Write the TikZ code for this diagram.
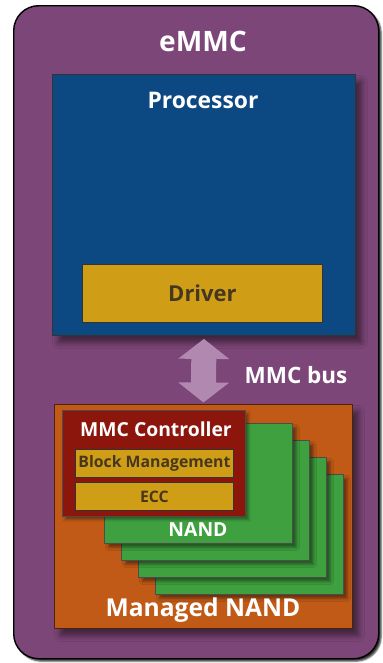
\documentclass[tikz,border=0pt]{standalone}
\usepackage{fontspec}
\setmainfont{Open Sans}
\usetikzlibrary{arrows.meta,shadows.blur}

\definecolor{emmcpurple}{RGB}{125,70,120}
\definecolor{procblue}{RGB}{12,72,130}
\definecolor{drvgold}{RGB}{208,158,22}
\definecolor{mnorange}{RGB}{192,90,22}
\definecolor{ctrlred}{RGB}{140,22,12}
\definecolor{nandgreen}{RGB}{62,160,62}
\definecolor{buspurple}{RGB}{176,136,176}
\definecolor{darktext}{RGB}{70,55,30}

\begin{document}
\begin{tikzpicture}[x=0.2mm, y=-0.2mm, line join=round,
	box/.style={fill=#1, draw=#1!40!black, line width=0.5pt, anchor=north west, inner sep=0pt},
	shade box/.style={blur shadow={shadow xshift=1.2mm, shadow yshift=-1.4mm, shadow blur radius=1.2mm, shadow opacity=50}},
	fs/.style={font=\bfseries\fontsize{#1}{#1}\selectfont},
	title/.style={text=white, inner sep=0pt},
	dark/.style={text=darktext}]
	\useasboundingbox (0,0) rectangle (383,663);
	% package
	\node[box=emmcpurple, draw=black, line width=0.8pt, rounded corners=5mm,
		minimum width=73mm, minimum height=130.6mm,
		blur shadow={shadow xshift=0.5mm, shadow yshift=-0.5mm, shadow blur radius=0.3mm, shadow opacity=80}] (emmc) at (13,5) {};
	\node[title, fs=16] (emmctitle) at (203,41) {eMMC};
	% host side
	\node[box=procblue, draw=black!80, minimum width=60.6mm, minimum height=52.2mm, shade box] (proc) at (52,74) {};
	\node[title, fs=13] (proctitle) at (203,100) {Processor};
	\node[box=drvgold, draw=black!80, dark, fs=12.5, minimum width=48mm, minimum height=11.6mm] (drv) at (82,264) {Driver};
	% managed NAND
	\node[box=mnorange, minimum width=59.6mm, minimum height=44.8mm, shade box] (mnand) at (54,404) {};
	\foreach \i in {3,2,1,0}
		\node[box=nandgreen, draw=black!70, minimum width=37.6mm, minimum height=24mm,
			blur shadow={shadow xshift=0.8mm, shadow yshift=-0.8mm, shadow blur radius=0.6mm, shadow opacity=45}] (nand\i) at (104+17*\i,423+17*\i) {};
	\node[title, fs=11] (nandtitle) at (198,530) {NAND};
	\node[title, fs=14] (mntitle) at (203,610) {Managed NAND};
	\node[box=ctrlred, draw=black!70, minimum width=36.6mm, minimum height=21.2mm,
		blur shadow={shadow xshift=0.6mm, shadow yshift=-0.6mm, shadow blur radius=0.5mm, shadow opacity=40}] (ctrl) at (62,410) {};
	\node[title, fs=11] (ctrltitle) at (156,429) {MMC Controller};
	\node[box=drvgold, draw=black!80, dark, fs=9, minimum width=31.6mm, minimum height=5.6mm] (blk) at (75,449) {Block Management};
	\node[box=drvgold, draw=black!80, dark, fs=9, minimum width=31.6mm, minimum height=5.6mm] (ecc) at (75,482) {ECC};
	% bus
	\draw[buspurple, line width=5mm, {Triangle[width=10mm,length=4mm]}-{Triangle[width=10mm,length=4mm]},
		shorten <=0.6mm, shorten >=0.3mm] (proc.south) -- (mnand.north);
	\node[title, fs=12.8] (buslabel) at (296,375) {MMC bus};
\end{tikzpicture}
\end{document}
